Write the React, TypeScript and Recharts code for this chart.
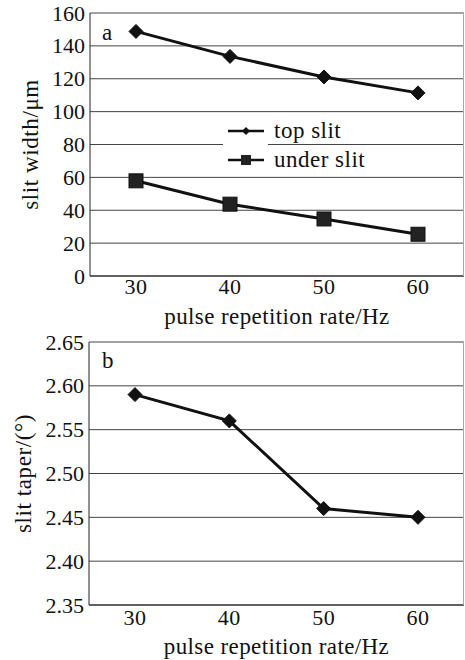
import React from 'react';
import { LineChart, Line, XAxis, YAxis, CartesianGrid } from 'recharts';

const rates = ['30', '40', '50', '60'];
const topSlit = [148.8, 133.6, 121.1, 111.4];
const underSlit = [57.9, 43.7, 34.7, 25.4];
const taper = [2.59, 2.56, 2.46, 2.45];
const widthTicks = [0, 20, 40, 60, 80, 100, 120, 140, 160];
const taperTicks = [2.35, 2.4, 2.45, 2.5, 2.55, 2.6, 2.65];
const seriesNames = ['top slit', 'under slit'];

const dataA = rates.map((r, i) => ({ rate: r, top: topSlit[i], under: underSlit[i] }));
const dataB = rates.map((r, i) => ({ rate: r, taper: taper[i] }));

const FONT = '"Liberation Serif", "DejaVu Serif", serif';
const GRID = '#444';

const Diamond = (size: number) => (props: any) => {
  const { cx, cy, index } = props;
  if (cx == null || cy == null) return null;
  const h = size / 2;
  return <path key={index} d={`M${cx},${cy - h}L${cx + h},${cy}L${cx},${cy + h}L${cx - h},${cy}Z`} fill="#111" stroke="#111" strokeWidth={1} />;
};

const Square = (size: number) => (props: any) => {
  const { cx, cy, index } = props;
  if (cx == null || cy == null) return null;
  return <rect key={index} x={cx - size / 2} y={cy - size / 2} width={size} height={size} fill="#222" stroke="#111" strokeWidth={1} />;
};

const XTick = (dy: number) => (props: any) => {
  const { x, y, payload } = props;
  return (
    <text x={x} y={y + dy} textAnchor="middle" fontFamily={FONT} fontSize={22} letterSpacing={0.5} fill="#111">{payload.value}</text>
  );
};

const YTick = (fmt: (v: number) => string) => (props: any) => {
  const { x, y, payload } = props;
  return (
    <text x={x + 3} y={y + 7.5} textAnchor="end" fontFamily={FONT} fontSize={22} fill="#111">{fmt(payload.value)}</text>
  );
};

const LegendBox = () => {
  const row = (kind: 'd' | 's', label: string) => (
    <div style={{ display: 'flex', alignItems: 'center', height: 29 }}>
      <div style={{ background: '#fff', width: 45, height: 29, display: 'flex', alignItems: 'center', justifyContent: 'center' }}>
        <svg width={36} height={14}>
          <line x1={0} y1={7} x2={36} y2={7} stroke="#111" strokeWidth={2.5} />
          {kind === 'd' ? (
            <path d="M18,3L22,7L18,11L14,7Z" fill="#111" />
          ) : (
            <rect x={13} y={2} width={10} height={10} fill="#222" />
          )}
        </svg>
      </div>
      <span style={{ fontFamily: FONT, fontSize: 23, letterSpacing: 0.5, color: '#111', marginLeft: 6, lineHeight: '29px' }}>{label}</span>
    </div>
  );
  return (
    <div style={{ position: 'absolute', left: 223, top: 116 }}>
      {row('d', seriesNames[0])}
      {row('s', seriesNames[1])}
    </div>
  );
};

const labelStyle = { fontFamily: FONT, fontSize: 23, fill: '#111', letterSpacing: 0.4 };
const panelLetter = { position: 'absolute' as const, left: 102, fontFamily: FONT, fontSize: 23, lineHeight: '23px', color: '#111' };

export default function App() {
  return (
    <div style={{ position: 'absolute', left: 0, top: 0, width: 465, height: 660, background: '#fff' }}>
      <div style={{ position: 'relative', width: 465, height: 330 }}>
        <LineChart width={465} height={330} data={dataA} margin={{ top: 13, right: 1, left: 0, bottom: 0 }}>
          <CartesianGrid vertical={false} stroke={GRID} strokeWidth={1} />
          <XAxis
            dataKey="rate"
            height={54}
            tickLine={false}
            padding={{ left: 46, right: 46 }}
            axisLine={{ stroke: '#222', strokeWidth: 1 }}
            tick={XTick(10)}
            label={{ value: 'pulse repetition rate/Hz', position: 'insideBottom', offset: 6, style: labelStyle }}
          />
          <YAxis
            width={90}
            domain={[0, 160]}
            ticks={widthTicks}
            interval={0}
            tickLine={false}
            axisLine={{ stroke: '#222', strokeWidth: 1 }}
            tick={YTick((v) => String(v))}
            tickMargin={2}
            label={{ value: 'slit width/μm', angle: -90, position: 'insideLeft', offset: 30, style: { ...labelStyle, letterSpacing: 0.6, textAnchor: 'middle' } }}
          />
          <Line dataKey="top" name={seriesNames[0]} stroke="#111" strokeWidth={3} dot={Diamond(14)} isAnimationActive={false} />
          <Line dataKey="under" name={seriesNames[1]} stroke="#111" strokeWidth={3} dot={Square(14)} isAnimationActive={false} />
        </LineChart>
        <LegendBox />
        <div style={{ ...panelLetter, top: 21 }}>a</div>
        <div style={{ position: 'absolute', left: 463, top: 13, width: 1, height: 263, background: '#aaa' }} />
      </div>
      <div style={{ position: 'relative', width: 465, height: 330 }}>
        <LineChart width={465} height={330} data={dataB} margin={{ top: 12, right: 1, left: 0, bottom: 0 }}>
          <CartesianGrid vertical={false} stroke={GRID} strokeWidth={1} />
          <XAxis
            dataKey="rate"
            height={55}
            tickLine={false}
            padding={{ left: 46, right: 46 }}
            axisLine={{ stroke: '#222', strokeWidth: 1 }}
            tick={XTick(12)}
            label={{ value: 'pulse repetition rate/Hz', position: 'insideBottom', offset: 6, style: labelStyle }}
          />
          <YAxis
            width={89}
            domain={[2.35, 2.65]}
            ticks={taperTicks}
            interval={0}
            tickFormatter={(v: number) => v.toFixed(2)}
            tickLine={false}
            axisLine={{ stroke: '#222', strokeWidth: 1 }}
            tick={YTick((v) => v.toFixed(2))}
            tickMargin={2}
            label={{ value: 'slit taper/(°)', angle: -90, position: 'insideLeft', offset: 23, style: { ...labelStyle, letterSpacing: 0.6, textAnchor: 'middle' } }}
          />
          <Line dataKey="taper" stroke="#111" strokeWidth={3} dot={Diamond(14)} isAnimationActive={false} />
        </LineChart>
        <div style={{ ...panelLetter, top: 19 }}>b</div>
        <div style={{ position: 'absolute', left: 463, top: 12, width: 1, height: 263, background: '#aaa' }} />
      </div>
    </div>
  );
}
